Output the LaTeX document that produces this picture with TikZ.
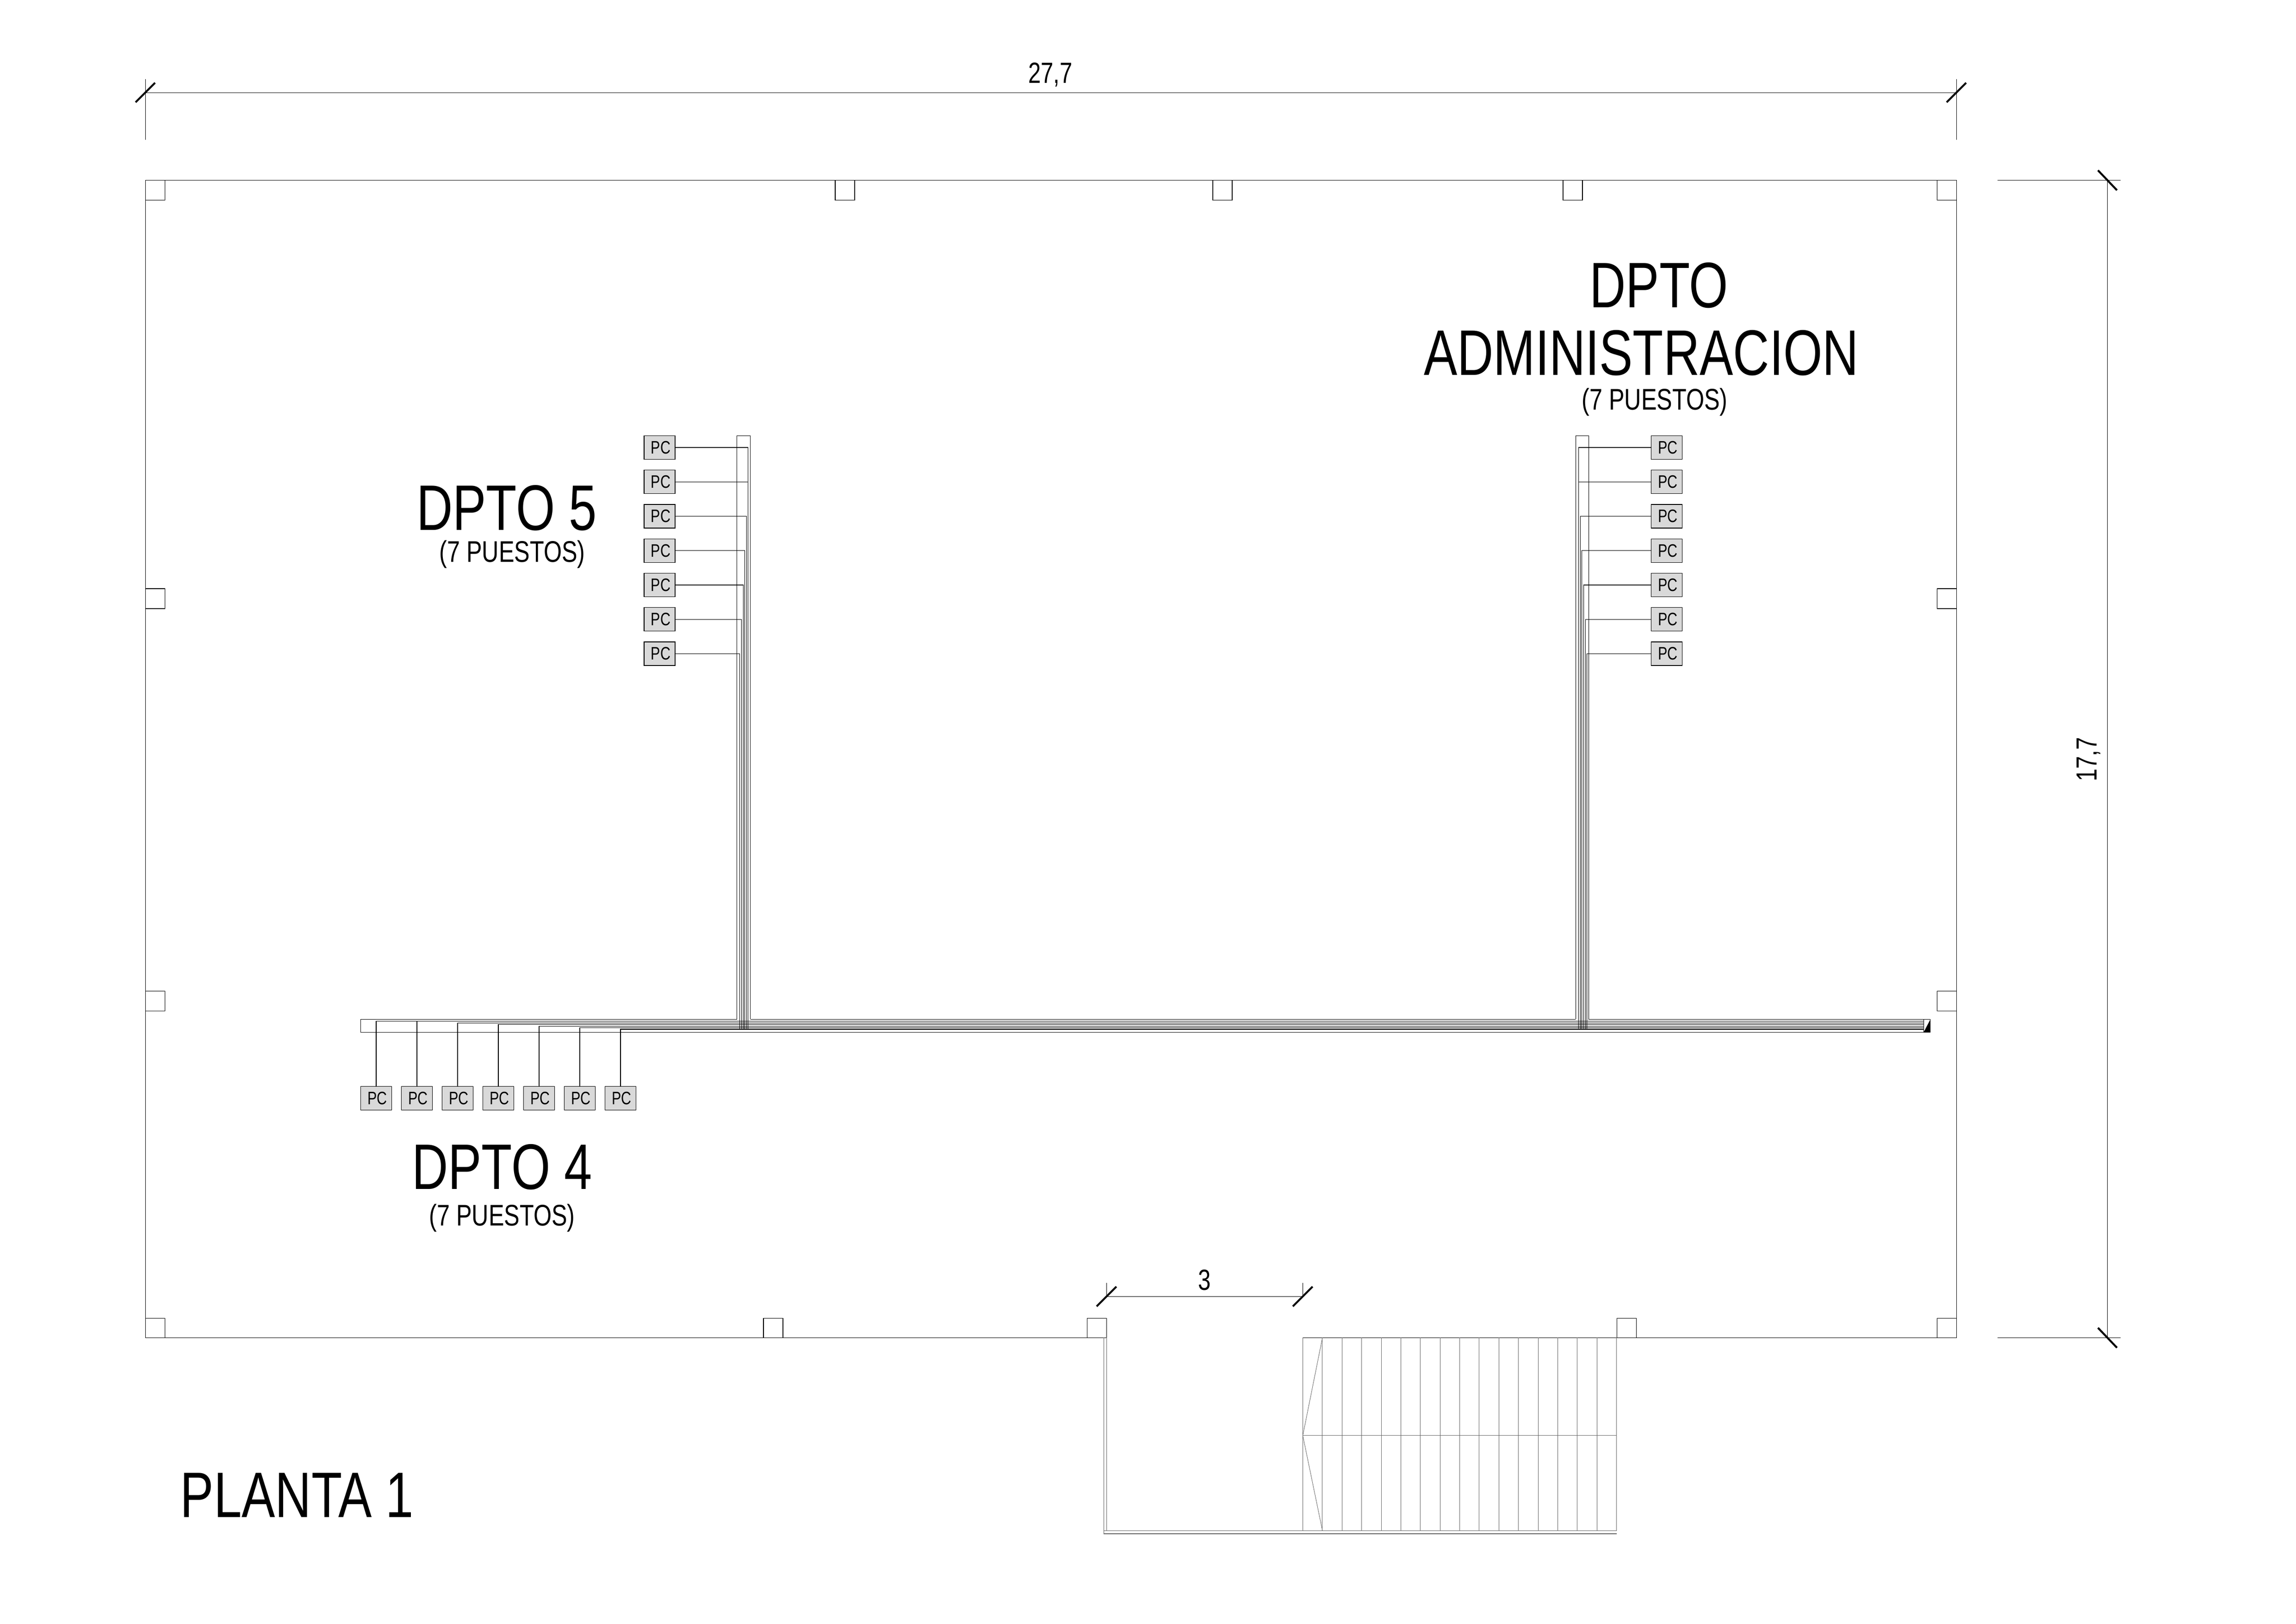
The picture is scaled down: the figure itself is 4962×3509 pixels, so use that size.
\documentclass[tikz,border=0pt]{standalone}
\usepackage{fontspec}
\setmainfont[FakeStretch=0.78]{Liberation Sans}
\tikzset{
  px/.style={x=0.1pt,y=-0.1pt},
  ln/.style={draw=black,line width=0.11pt},
  grayln/.style={draw=black!60,line width=0.09pt},
  grayth/.style={draw=black!60,line width=0.13pt},
  tick/.style={draw=black,line width=0.42pt},
  pcbox/.style={draw=black,line width=0.11pt,fill=black!15,rectangle,inner sep=0pt,minimum width=6.7pt,minimum height=5.1pt,font=\fontsize{3.9}{4.5}\selectfont},
  col/.style={draw=black,line width=0.11pt},
  dimtext/.style={inner sep=0pt,font=\fontsize{6.3}{7.5}\selectfont},
  subtext/.style={inner sep=0pt,font=\fontsize{6.45}{7.5}\selectfont},
  bigtext/.style={inner sep=0pt,font=\fontsize{13.9}{16}\selectfont},
}
\begin{document}
\begin{tikzpicture}[px]
\useasboundingbox (0,0) rectangle (4962,3509);
% building outline
\draw[ln] (2391.5,2890.3) -- (314.3,2890.3) -- (314.3,389.3) -- (4228.3,389.3) -- (4228.3,2890.3) -- (2815.5,2890.3);
% columns
\foreach \xa/\ya/\xb/\yb in {314.3/389.3/356.7/432.3,1805/389.3/1847/432.3,2621/389.3/2663/432.3,3378/389.3/3420/432.3,4186.3/389.3/4228.3/432.3,
  314.3/1272/356.7/1315,314.3/2141.3/356.7/2184.3,4186.3/1272/4228.3/1315,4186.3/2141.3/4228.3/2184.3,
  314.3/2848.4/356.7/2890.3,1650/2848.4/1692/2890.3,2349.3/2848.4/2391.5/2890.3,3494.3/2848.4/3536.6/2890.3,4186.3/2848.4/4228.3/2890.3}
  \draw[col] (\xa,\ya) rectangle (\xb,\yb);
% top dimension
\coordinate (dl) at (314.3,200.3);
\coordinate (dr) at (4228.3,200.3);
\draw[ln] (dl) -- (dr);
\draw[ln] (314.3,171) -- (314.3,301.7);
\draw[ln] (4228.3,171) -- (4228.3,301.7);
\draw[tick] (293,221) -- (335,179);
\draw[tick] (4207,221) -- (4249,179);
\node[dimtext] (dimw) at (2270,162) {27,7};
% right dimension
\coordinate (dt) at (4554.3,389.3);
\coordinate (db) at (4554.3,2890.3);
\draw[ln] (dt) -- (db);
\draw[ln] (4317,389.3) -- (4583,389.3);
\draw[ln] (4317,2890.3) -- (4583,2890.3);
\draw[tick] (4534,368) -- (4575,411);
\draw[tick] (4534,2869) -- (4575,2912);
\node[dimtext,rotate=90] (dimh) at (4514,1641) {17,7};
% stair dimension
\coordinate (sl) at (2391.5,2801.4);
\coordinate (sr) at (2815.5,2801.4);
\draw[ln] (sl) -- (sr);
\draw[ln] (2391.5,2772) -- (2391.5,2801.4);
\draw[ln] (2815.5,2772) -- (2815.5,2801.4);
\draw[tick] (2370,2822.7) -- (2412.7,2780);
\draw[tick] (2794,2822.7) -- (2836.7,2780);
\node[dimtext] (dims) at (2603,2766) {3};
% stairs
\draw[grayln] (2385,2890.3) -- (2385,3314);
\draw[grayln] (2391.5,2890.3) -- (2391.5,3307.3);
\draw[grayln] (2385,3307.3) -- (3493.5,3307.3);
\draw[grayth] (2385,3314) -- (3493.5,3314);
\foreach \k in {0,...,16}
  \draw[grayln] ({2815.5+42.37*\k},2890.3) -- ({2815.5+42.37*\k},3307.3);
\draw[grayth] (2815.5,3101.8) -- (3493.5,3101.8);
\draw[grayln] (2858,2890.3) -- (2815.5,3101.8) -- (2858,3307.3);
% trunk
\draw[ln] (1592.5,2202.3) -- (779.6,2202.3) -- (779.6,2230.3) -- (4171.7,2230.3) -- (4171.7,2202.3) -- (3433.3,2202.3);
\draw[ln] (3405.3,2202.3) -- (1621.7,2202.3);
\draw[ln] (4157.3,2202.3) -- (4157.3,2230.3);
\fill[black] (4171.7,2203) -- (4157.3,2230.3) -- (4171.7,2230.3) -- cycle;
% risers
\draw[ln] (1592.5,2202.3) -- (1592.5,941.3) -- (1621.7,941.3) -- (1621.7,2202.3);
\draw[ln] (3405.3,2202.3) -- (3405.3,941.3) -- (3433.3,941.3) -- (3433.3,2202.3);
% DPTO 5
\foreach \n/\wx in {1/1616.3,2/1616.3,3/1613.3,4/1609.3,5/1606.3,6/1602.3,7/1598.3}{
  \node[pcbox] (l\n) at (1425.5,{967+74.25*(\n-1)}) {\hspace{0.5pt}PC};
  \coordinate (lw\n) at (\wx,2224);
  \draw[ln] (l\n.east) -| (lw\n);
}
% DPTO ADMINISTRACION
\foreach \n/\wx in {1/3411.7,2/3411.7,3/3415.7,4/3418.3,5/3422.3,6/3426.3,7/3429.3}{
  \node[pcbox] (r\n) at (3602,{967+74.25*(\n-1)}) {\hspace{0.5pt}PC};
  \coordinate (rw\n) at (\wx,2224);
  \draw[ln] (r\n.west) -| (rw\n);
}
% DPTO 4
\foreach \n/\wy in {1/2206.3,2/2206.3,3/2210.3,4/2213.3,5/2217.3,6/2220.3,7/2224}{
  \node[pcbox] (b\n) at ({813+88*(\n-1)},2372.8) {\hspace{0.5pt}PC};
  \coordinate (bw\n) at (4157.3,\wy);
  \draw[ln] (b\n.north) |- (bw\n);
}
% labels
\node[bigtext] (t1) at (3585,617) {DPTO};
\node[bigtext] (t2) at (3547,763) {ADMINISTRACION};
\node[subtext] (t3) at (3576,869) {(7 PUESTOS)};
\node[bigtext] (t4) at (1095,1098) {DPTO 5};
\node[subtext] (t5) at (1107,1198) {(7 PUESTOS)};
\node[bigtext] (t6) at (1085,2522) {DPTO 4};
\node[subtext] (t7) at (1085,2632) {(7 PUESTOS)};
\node[bigtext] (t8) at (642,3231) {PLANTA 1};
\end{tikzpicture}
\end{document}
